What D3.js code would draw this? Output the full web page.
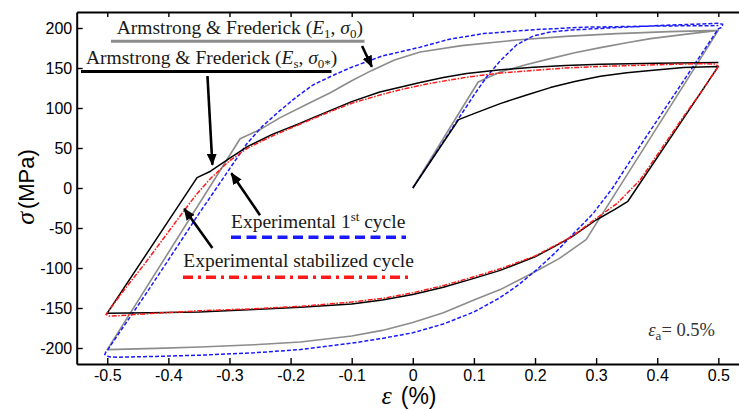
<!DOCTYPE html>
<html>
<head>
<meta charset="utf-8">
<script src="https://cdn.jsdelivr.net/npm/d3@7"></script>
<style>
  body { margin: 0; background: #fff; }
  svg { display: block; }
</style>
</head>
<body>
<div id="chart"></div>
<script>
// tick values
const epsTicks = [-0.5, -0.4, -0.3, -0.2, -0.1, 0, 0.1, 0.2, 0.3, 0.4, 0.5];
const sigmaTicks = [-200, -150, -100, -50, 0, 50, 100, 150, 200];

// series: [strain %, stress MPa]
// Experimental 1st cycle (blue dashed)
const expFirstCycle = [
  [0, 0], [0.05, 58], [0.1, 116], [0.121, 139], [0.143, 159], [0.17, 179], [0.197, 190],
  [0.225, 195], [0.26, 197.5], [0.307, 199.5], [0.36, 201.5], [0.416, 203.5], [0.47, 205],
  [0.5, 206], [0.507, 204.5], [0.506, 201], [0.5, 199],
  [0.367, 47], [0.327, 0], [0.295, -32], [0.263, -57], [0.233, -81], [0.203, -102],
  [0.173, -121], [0.143, -137], [0.1, -155], [0.05, -170], [0, -181], [-0.05, -188],
  [-0.1, -194], [-0.184, -202], [-0.26, -206], [-0.348, -209], [-0.42, -210.5],
  [-0.484, -211.5], [-0.497, -211], [-0.504, -208], [-0.502, -204.5], [-0.5, -203],
  [-0.44, -136], [-0.4, -90], [-0.35, -32], [-0.331, -11], [-0.298, 26], [-0.272, 55],
  [-0.245, 78], [-0.217, 97], [-0.19, 114], [-0.163, 129], [-0.13, 141], [-0.1, 151],
  [-0.05, 165], [0.012, 176], [0.06, 186], [0.116, 193], [0.2, 198], [0.28, 201],
  [0.4, 202.5], [0.5, 203]
];

// Experimental stabilized cycle (red dash-dot)
const expStabilized = [
  [0.5, 152], [0.47, 118], [0.44, 86], [0.405, 47], [0.372, 10], [0.334, -19.5], [0.3, -38],
  [0.26, -61], [0.2, -85], [0.143, -101], [0.1, -111], [0.05, -122], [0, -131], [-0.05, -138],
  [-0.1, -142.5], [-0.184, -148], [-0.26, -151], [-0.35, -153.5], [-0.43, -157],
  [-0.48, -159.5], [-0.497, -160], [-0.502, -158], [-0.5, -156],
  [-0.47, -125], [-0.44, -96], [-0.405, -60], [-0.375, -29], [-0.355, -9], [-0.331, 12],
  [-0.3, 34], [-0.27, 50], [-0.23, 65], [-0.184, 80], [-0.14, 94], [-0.1, 106], [-0.05, 117],
  [-0.02, 123], [0.03, 131], [0.088, 138.5], [0.14, 143.5], [0.197, 147], [0.25, 150],
  [0.307, 152], [0.4, 154], [0.47, 155.5], [0.495, 155], [0.5, 152]
];

// Armstrong & Frederick (E1, sigma0) (gray)
const afE1 = [
  [0, 0], [0.107, 132.5], [0.143, 145], [0.185, 154], [0.225, 161.7], [0.265, 169],
  [0.307, 175.5], [0.35, 181.5], [0.389, 186.7], [0.445, 192], [0.5, 197],
  [0.2836, -64.5], [0.24, -88], [0.197, -106], [0.143, -127], [0.1, -140], [0.05, -156],
  [0, -168], [-0.05, -178], [-0.1, -185], [-0.184, -192.5], [-0.26, -196], [-0.348, -198.7],
  [-0.42, -200.5], [-0.5, -202],
  [-0.2826, 61.5], [-0.25, 73], [-0.217, 88], [-0.175, 104], [-0.135, 119], [-0.1, 134],
  [-0.067, 147], [-0.03, 160], [0.012, 170], [0.08, 178], [0.17, 185], [0.25, 189.5],
  [0.334, 193], [0.42, 195.5], [0.5, 197]
];

// Armstrong & Frederick (Es, sigma0*) (black)
const afEs = [
  [0, 0], [0.075, 85.5], [0.1, 93], [0.143, 105.5], [0.185, 116], [0.225, 125.5],
  [0.265, 133], [0.307, 139.6], [0.35, 144], [0.389, 147], [0.443, 150.5], [0.5, 152],
  [0.352, -16.6], [0.33, -27], [0.3, -40], [0.26, -61], [0.23, -74], [0.2, -86],
  [0.143, -103], [0.1, -113], [0.05, -124], [0, -133], [-0.05, -140], [-0.1, -145],
  [-0.184, -149], [-0.26, -152], [-0.35, -155], [-0.43, -156], [-0.5, -156.5],
  [-0.353, 13], [-0.331, 21], [-0.3, 37], [-0.27, 52], [-0.23, 67], [-0.184, 81],
  [-0.163, 88], [-0.1, 108], [-0.054, 120], [0.012, 132], [0.05, 138], [0.088, 143],
  [0.14, 147.5], [0.197, 151], [0.25, 153], [0.307, 154.6], [0.4, 156], [0.5, 157]
];

// annotation arrows: [tail, tip] in data units
const arrowEs = [[-0.336, 140], [-0.328, 29]];
const arrowE1 = [[-0.083, 177.5], [-0.067, 151.5]];
const arrowExp1 = [[-0.25, -34], [-0.297, 18.5]];
const arrowExpStab = [[-0.328, -75], [-0.374, -26]];

const width = 739, height = 410;

const svg = d3.select("#chart")
  .append("svg")
  .attr("width", width)
  .attr("height", height);

let x = d3.scaleLinear().domain([-0.55, 0.55]).range([76.7, 748.9]);
let y = d3.scaleLinear().domain([-220, 220]).range([364, 12]);

const sans = "'Liberation Sans', Arial, sans-serif";
const serif = "'Liberation Serif', 'Times New Roman', serif";

// axes
function styleAxis(g) {
  g.attr("font-family", sans).attr("font-size", 16);
  g.select(".domain").attr("stroke", "#000").attr("stroke-width", 2);
  g.selectAll(".tick line").attr("stroke", "#000").attr("stroke-width", 1.4);
  g.selectAll(".tick text").attr("fill", "#000");
}

svg.append("g")
  .attr("transform", "translate(0," + y(-220) + ")")
  .call(d3.axisBottom(x).tickValues(epsTicks).tickSizeInner(-6).tickSizeOuter(0)
    .tickPadding(6).tickFormat(d => String(d)))
  .call(styleAxis);

svg.append("g")
  .attr("transform", "translate(0," + y(220) + ")")
  .call(d3.axisTop(x).tickValues(epsTicks).tickSizeInner(-5).tickSizeOuter(0).tickFormat(""))
  .call(styleAxis);

svg.append("g")
  .attr("transform", "translate(" + x(-0.55) + ",0)")
  .call(d3.axisLeft(y).tickValues(sigmaTicks).tickSizeInner(-6).tickSizeOuter(0)
    .tickPadding(4.5).tickFormat(d => String(d)))
  .call(styleAxis);

// curves
let line = d3.line()
  .x(d => x(d[0]))
  .y(d => y(d[1]));

svg.append("path").datum(afE1)
  .attr("d", line).attr("fill", "none")
  .attr("stroke", "#8c8c8c").attr("stroke-width", 1.6)
  .attr("stroke-linejoin", "round");

svg.append("path").datum(expFirstCycle)
  .attr("d", line).attr("fill", "none")
  .attr("stroke", "#1a1aff").attr("stroke-width", 1.5)
  .attr("stroke-dasharray", "4,2");

svg.append("path").datum(afEs)
  .attr("d", line).attr("fill", "none")
  .attr("stroke", "#000").attr("stroke-width", 1.5)
  .attr("stroke-linejoin", "round");

svg.append("path").datum(expStabilized)
  .attr("d", line).attr("fill", "none")
  .attr("stroke", "#ff1a1a").attr("stroke-width", 1.5)
  .attr("stroke-dasharray", "5,1.5,1.5,1.5");

// arrow heads
svg.append("defs")
  .append("marker")
  .attr("id", "head")
  .attr("viewBox", "0 0 12 10")
  .attr("refX", 11)
  .attr("refY", 5)
  .attr("markerWidth", 12)
  .attr("markerHeight", 10)
  .attr("markerUnits", "userSpaceOnUse")
  .attr("orient", "auto")
  .append("path")
  .attr("d", "M0,0L12,5L0,10z")
  .attr("fill", "#000");

[arrowEs, arrowE1, arrowExp1, arrowExpStab].forEach(a => {
  svg.append("line")
    .attr("x1", x(a[0][0])).attr("y1", y(a[0][1]))
    .attr("x2", x(a[1][0])).attr("y2", y(a[1][1]))
    .attr("stroke", "#000").attr("stroke-width", 2.6)
    .attr("marker-end", "url(#head)");
});

// legend labels
function label(px, py, parts) {
  let t = svg.append("text")
    .attr("x", px).attr("y", py)
    .attr("font-family", serif)
    .attr("font-size", 19.5)
    .attr("fill", "#1a1a1a");
  parts.forEach(p => {
    let s = t.append("tspan").text(p.t);
    if (p.i) s.attr("font-style", "italic");
    if (p.sub) s.attr("font-size", 13).attr("dy", 4);
    if (p.sup) s.attr("font-size", 13).attr("dy", -7);
    if (p.back) s.attr("dy", p.back);
  });
  return t;
}

label(116.7, 33.7, [
  { t: "Armstrong & Frederick (" }, { t: "E", i: true }, { t: "1", sub: true },
  { t: ", ", back: -4 }, { t: "σ", i: true }, { t: "0", sub: true }, { t: ")", back: -4 }
]);
svg.append("line").attr("x1", 111).attr("x2", 364.5).attr("y1", 41.3).attr("y2", 41.3)
  .attr("stroke", "#8c8c8c").attr("stroke-width", 3);

label(86, 63.7, [
  { t: "Armstrong & Frederick (" }, { t: "E", i: true }, { t: "s", sub: true },
  { t: ", ", back: -4 }, { t: "σ", i: true }, { t: "0*", sub: true }, { t: ")", back: -4 }
]);
svg.append("line").attr("x1", 81).attr("x2", 331.5).attr("y1", 71.5).attr("y2", 71.5)
  .attr("stroke", "#000").attr("stroke-width", 3);

label(231, 228.3, [
  { t: "Experimental 1" }, { t: "st", sup: true }, { t: " cycle", back: 7 }
]);
svg.append("line").attr("x1", 231).attr("x2", 406).attr("y1", 237.3).attr("y2", 237.3)
  .attr("stroke", "#1a1aff").attr("stroke-width", 3.5).attr("stroke-dasharray", "10,5.5");

label(183.3, 267.3, [{ t: "Experimental stabilized cycle" }]);
svg.append("line").attr("x1", 183).attr("x2", 413).attr("y1", 277.3).attr("y2", 277.3)
  .attr("stroke", "#ff1a1a").attr("stroke-width", 3.5).attr("stroke-dasharray", "10,5,3,5");

// strain amplitude note
let note = svg.append("text")
  .attr("x", 648.3).attr("y", 336)
  .attr("font-family", serif).attr("font-size", 18.5).attr("fill", "#333");
note.append("tspan").attr("font-style", "italic").text("ε");
note.append("tspan").attr("font-size", 13).attr("dy", 4).text("a");
note.append("tspan").attr("dy", -4).text("= 0.5%");

// axis titles
let xt = svg.append("text")
  .attr("x", 381.5).attr("y", 404)
  .attr("font-size", 23).attr("fill", "#000");
xt.append("tspan").attr("font-family", serif).attr("font-style", "italic").attr("font-size", 26).text("ε");
xt.append("tspan").attr("font-family", sans).attr("dx", 9).text("(%)");

let yt = svg.append("text")
  .attr("transform", "translate(34,187) rotate(-90)")
  .attr("text-anchor", "middle")
  .attr("font-size", 22).attr("fill", "#000");
yt.append("tspan").attr("font-family", serif).attr("font-style", "italic").attr("font-size", 26).text("σ");
yt.append("tspan").attr("font-family", sans).attr("dx", 3).text("(MPa)");
</script>
</body>
</html>
